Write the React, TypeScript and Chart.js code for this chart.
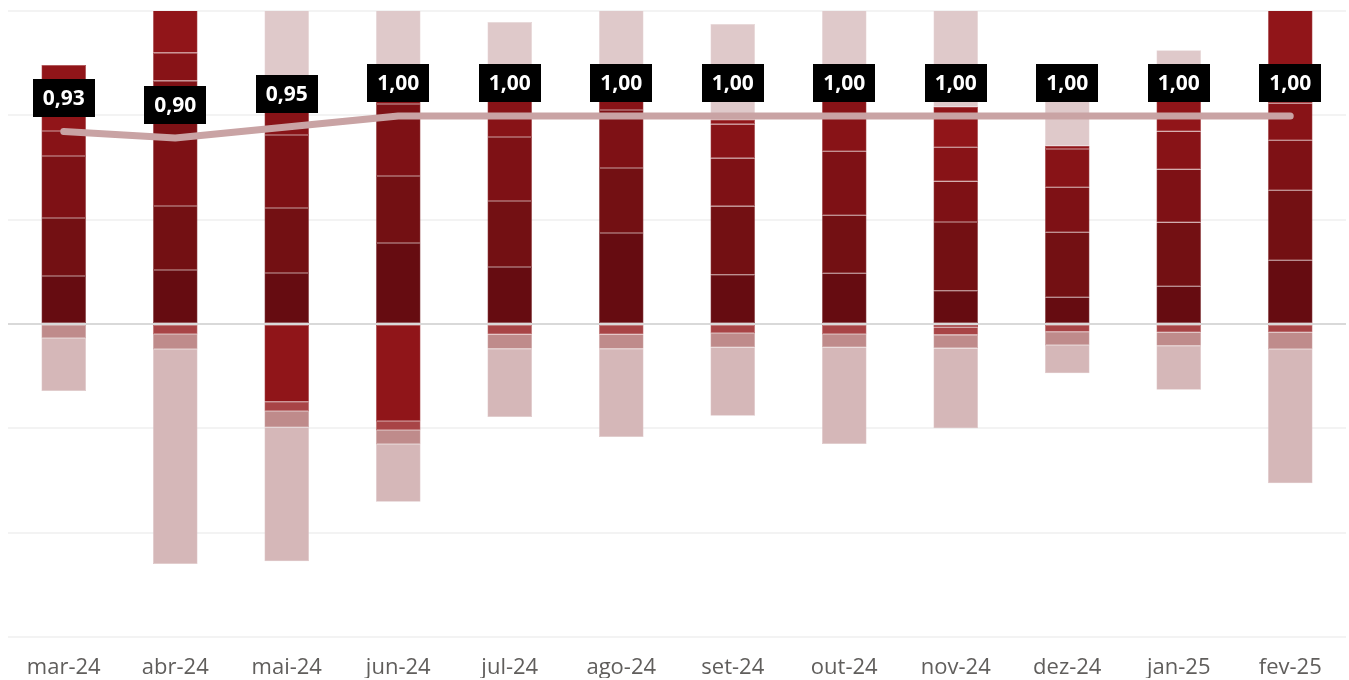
import React, { useEffect, useRef } from "react";
import { Chart, registerables } from "chart.js";

Chart.register(...registerables);

const categories = ["mar-24", "abr-24", "mai-24", "jun-24", "jul-24", "ago-24", "set-24", "out-24", "nov-24", "dez-24", "jan-25", "fev-25"];

// positive stack segments, bottom to top
const pos1 = [4.6, 5.18, 4.89, 7.76, 5.46, 8.72, 4.73, 4.86, 3.19, 2.56, 3.61, 6.1];
const pos2 = [5.56, 6.13, 6.23, 6.42, 6.33, 6.23, 6.56, 5.56, 6.58, 6.23, 6.13, 6.71];
const pos3 = [5.94, 12.0, 7.0, 6.9, 6.13, 5.56, 4.6, 6.13, 3.9, 4.31, 5.08, 4.79];
const pos4 = [2.4, 2.68, 2.97, 1.44, 4.12, 1.34, 3.26, 5.3, 3.26, 3.67, 3.64, 3.55];
const pos5 = [6.33, 8.0, 0, 0, 0, 0, 0.44, 0, 3.9, 0.32, 3.38, 10.0];
const posLight = [0, 0, 10.0, 10.0, 6.9, 10.0, 9.17, 10.0, 10.0, 4.95, 4.41, 0];

// negative stack segments, from zero downward
const neg0 = [0, 0, -7.45, -9.3, 0, 0, 0, 0, -0.3, 0, 0, 0];
const neg1 = [0, -0.96, -0.89, -0.86, -1.0, -1.0, -0.86, -0.96, -0.74, -0.74, -0.8, -0.8];
const neg2 = [-1.34, -1.44, -1.56, -1.34, -1.37, -1.37, -1.37, -1.28, -1.28, -1.28, -1.28, -1.6];
const neg3 = [-5.08, -20.6, -12.84, -5.53, -6.55, -8.47, -6.56, -9.27, -7.67, -2.71, -4.22, -12.87];

const ratio = [0.93, 0.9, 0.95, 1.0, 1.0, 1.0, 1.0, 1.0, 1.0, 1.0, 1.0, 1.0];

const fmt = (v: number) => v.toFixed(2).replace(".", ",");

const lighten = (hex: string, t: number) => {
  const n = parseInt(hex.slice(1), 16);
  const r = (n >> 16) & 255, g = (n >> 8) & 255, b = n & 255;
  const f = (c: number) => Math.round(c + (255 - c) * t);
  return `rgb(${f(r)},${f(g)},${f(b)})`;
};

const labelPlugin = {
  id: "boxLabels",
  afterDatasetsDraw(chart: any) {
    const meta = chart.getDatasetMeta(0);
    const ctx = chart.ctx;
    ctx.save();
    meta.data.forEach((pt: any, i: number) => {
      const w = 62;
      const h = 38;
      const x = pt.x;
      const bottom = pt.y - 14;
      ctx.fillStyle = "#000000";
      ctx.fillRect(Math.round(x - w / 2), Math.round(bottom - h), w, h);
      ctx.fillStyle = "#ffffff";
      ctx.font = "bold 21px 'Open Sans', sans-serif";
      ctx.textAlign = "center";
      ctx.textBaseline = "middle";
      ctx.fillText(fmt(ratio[i]), x, bottom - h / 2 + 1);
    });
    ctx.restore();
  },
};

export default function App() {
  const ref = useRef<HTMLCanvasElement | null>(null);
  useEffect(() => {
    document.body.style.margin = "0";
    if (!ref.current) return;
    const barDs = (data: number[], color: string) => ({
      type: "bar" as const,
      data,
      backgroundColor: color,
      borderColor: lighten(color, 0.22),
      borderWidth: 0.6,
      borderSkipped: false,
      yAxisID: "y",
      order: 1,
      barPercentage: 1,
      categoryPercentage: 0.4,
    });
    const chart = new Chart(ref.current, {
      type: "bar",
      data: {
        labels: categories,
        datasets: [
          {
            type: "line",
            data: ratio,
            borderColor: "#c9a3a4",
            borderWidth: 7,
            borderCapStyle: "round",
            borderJoinStyle: "round",
            pointRadius: 0,
            tension: 0,
            yAxisID: "y2",
            order: 0,
          } as any,
          barDs(pos1, "#660c11"),
          barDs(pos2, "#731013"),
          barDs(pos3, "#7e1115"),
          barDs(pos4, "#881317"),
          barDs(pos5, "#911519"),
          barDs(posLight, "#dfc9ca"),
          barDs(neg0, "#901519"),
          barDs(neg1, "#a84446"),
          barDs(neg2, "#bf8b8b"),
          barDs(neg3, "#d5b7b8"),
        ],
      },
      options: {
        animation: false,
        responsive: false,
        maintainAspectRatio: false,
        layout: { padding: { left: 8, right: 3, top: 11, bottom: 2 } },
        plugins: { legend: { display: false }, tooltip: { enabled: false } },
        scales: {
          x: {
            stacked: true,
            grid: { display: false, drawTicks: false },
            border: { display: false },
            ticks: {
              color: "#605e5c",
              font: { family: "'Open Sans', sans-serif", size: 22 },
              padding: 18,
            },
            afterFit: (s: any) => {
              s.height = 41;
            },
          },
          y: {
            stacked: true,
            min: -30,
            max: 30,
            ticks: { display: false, stepSize: 10 },
            border: { display: false },
            grid: {
              drawTicks: false,
              color: (c: any) => (c.tick && c.tick.value === 0 ? "#d9d9d9" : "#f3f3f3"),
              lineWidth: 2,
            },
          },
          y2: {
            display: false,
            min: -1.368,
            max: 1.4773,
          },
        },
      },
      plugins: [labelPlugin],
    });
    return () => chart.destroy();
  }, []);
  return (
    <div style={{ width: 1349, height: 680 }}>
      <canvas ref={ref} width={1349} height={680} style={{ display: "block" }} />
    </div>
  );
}
